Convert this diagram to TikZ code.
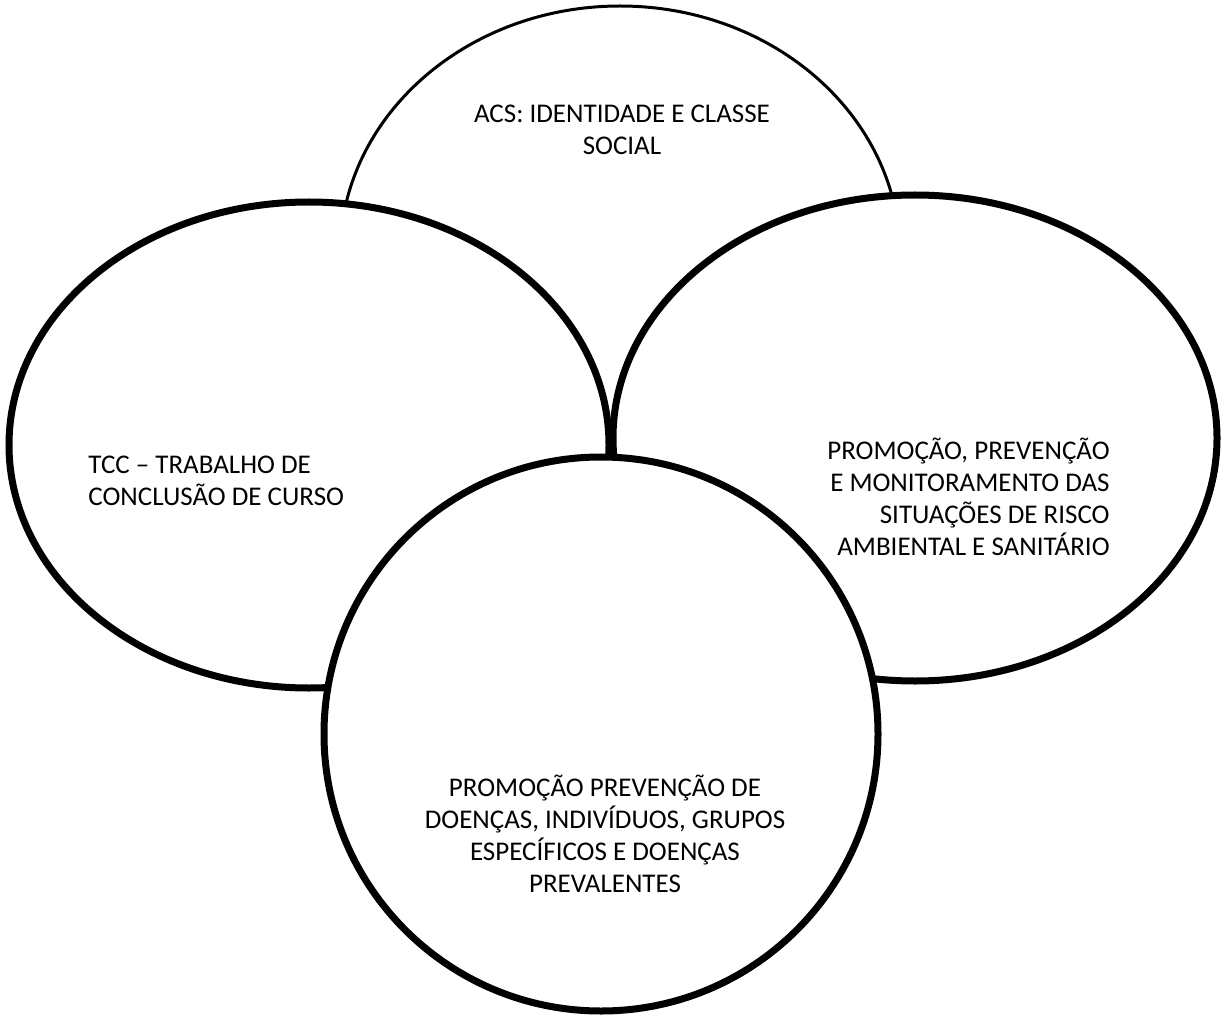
\documentclass[tikz,border=0pt]{standalone}
\usepackage{fontspec}
\setmainfont{Carlito}
\begin{document}
\begin{tikzpicture}[x=0.5pt,y=-0.5pt,
  thinring/.style={draw=black,line width=1.5pt,fill=white},
  thickring/.style={draw=black,line width=3.5pt,fill=white},
  lbl/.style={font=\fontsize{13.5}{16.1}\selectfont,inner sep=0pt}]
\useasboundingbox (0,0) rectangle (1221,1016);
\path[fill=white] (0,0) rectangle (1221,1016);
% ellipses
\draw[thinring] (620,255) ellipse [x radius=280, y radius=249];
\draw[thickring] (309,445) ellipse [x radius=300, y radius=243];
\draw[thickring] (915,438) ellipse [x radius=302, y radius=243];
\draw[thickring] (601,734) ellipse [x radius=277, y radius=277];
% labels
\node[lbl,align=center] (acs) at (622,130) {ACS: IDENTIDADE E CLASSE\\SOCIAL};
\node[lbl,align=left,anchor=west] (tcc) at (88,481) {TCC – TRABALHO DE\\CONCLUSÃO DE CURSO};
\node[lbl,align=right,anchor=east] (risco) at (1110,497) {PROMOÇÃO, PREVENÇÃO\\E MONITORAMENTO DAS\\SITUAÇÕES DE RISCO\\AMBIENTAL E SANITÁRIO};
\node[lbl,align=center] (doencas) at (605,834) {PROMOÇÃO PREVENÇÃO DE\\DOENÇAS, INDIVÍDUOS, GRUPOS\\ESPECÍFICOS E DOENÇAS\\PREVALENTES};
\end{tikzpicture}
\end{document}
